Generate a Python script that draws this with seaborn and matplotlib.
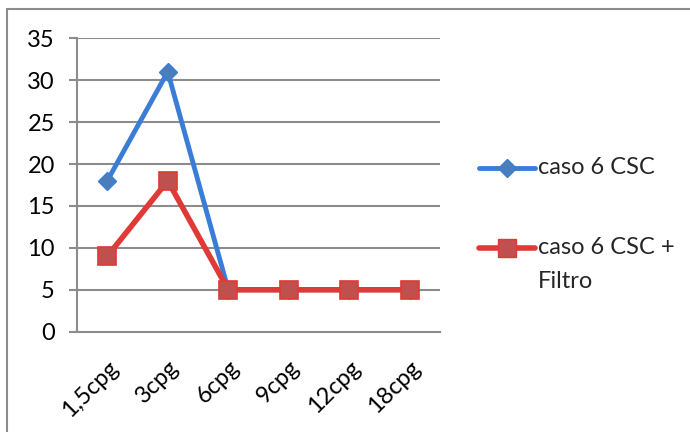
import matplotlib
matplotlib.use("Agg")
import matplotlib.pyplot as plt
import seaborn as sns
import pandas as pd
from matplotlib.lines import Line2D
from matplotlib.patches import Rectangle

# Categories and series values
categories = ["1,5cpg", "3cpg", "6cpg", "9cpg", "12cpg", "18cpg"]
csc_values = [18, 31, 5, 5, 5, 5]
csc_filtro_values = [9, 18, 5, 5, 5, 5]
series_names = ["caso 6 CSC", "caso 6 CSC + Filtro"]
y_ticks = [0, 5, 10, 15, 20, 25, 30, 35]

sns.set_theme(style="white")
plt.rcParams["font.family"] = ["Lato", "DejaVu Sans"]

W, H = 690, 432
fig = plt.figure(figsize=(W / 100, H / 100), dpi=100)

def fx(px):
    return px / W

def fy(py):
    return 1 - py / H

ax = fig.add_axes([fx(77), fy(331.7), fx(440) - fx(77), fy(38.3) - fy(331.7)])

df = pd.DataFrame({
    "cat": categories * 2,
    "val": csc_values + csc_filtro_values,
    "series": [series_names[0]] * len(categories) + [series_names[1]] * len(categories),
})

blue_line, blue_fill = "#3A7DD6", "#4A7EBB"
red_line, red_fill = "#E03A36", "#C0504D"
FS = 17
LW_BLUE, LW_RED = 3.5, 4.0

sns.lineplot(data=df[df.series == series_names[0]], x="cat", y="val", ax=ax,
             color=blue_line, lw=LW_BLUE, marker="D", markersize=9,
             markerfacecolor=blue_fill, markeredgecolor=blue_line, markeredgewidth=1,
             sort=False, legend=False, zorder=3)
sns.lineplot(data=df[df.series == series_names[1]], x="cat", y="val", ax=ax,
             color=red_line, lw=LW_RED, marker="s", markersize=13.5,
             markerfacecolor=red_fill, markeredgecolor=red_line, markeredgewidth=1.2,
             sort=False, legend=False, zorder=4)

grid_col = "#8C8C8C"
ax.set_xlim(-0.5, len(categories) - 0.5)
ax.set_ylim(0, 35)
ax.set_yticks(y_ticks)
ax.set_yticklabels([str(v) for v in y_ticks])
for v in y_ticks[1:]:
    ax.axhline(v, color=grid_col, lw=1.5, zorder=1)

ax.set_xticks(range(len(categories)))
ax.set_xticklabels(categories, rotation=45, ha="right", rotation_mode="anchor")
ax.set_xticks([i - 0.5 for i in range(len(categories) + 1)], minor=True)
ax.tick_params(axis="x", which="major", length=0, pad=18, labelsize=FS, colors="black")
ax.tick_params(axis="x", which="minor", length=6, width=1.5, color=grid_col, direction="out")
ax.tick_params(axis="y", which="major", length=6, width=1.5, color=grid_col, pad=10,
               labelsize=FS, labelcolor="black", direction="out", left=True)
for lab in ax.get_xticklabels():
    lab.set_color("black")

for side in ["top", "right"]:
    ax.spines[side].set_visible(False)
for side in ["left", "bottom"]:
    ax.spines[side].set_color(grid_col)
    ax.spines[side].set_linewidth(1.5)
ax.set_xlabel("")
ax.set_ylabel("")

# Legend drawn in figure coordinates
def legend_entry(ypx, color, fill, marker, ms, lw):
    fig.add_artist(Line2D([fx(479), fx(535)], [fy(ypx), fy(ypx)], color=color, lw=lw,
                          solid_capstyle="round", transform=fig.transFigure))
    fig.add_artist(Line2D([fx(507)], [fy(ypx)], marker=marker, markersize=ms,
                          markerfacecolor=fill, markeredgecolor=color, markeredgewidth=1,
                          lw=0, transform=fig.transFigure))

legend_entry(168, blue_line, blue_fill, "D", 9, LW_BLUE)
legend_entry(248, red_line, red_fill, "s", 13.5, LW_RED)
fig.text(fx(538), fy(168), "caso 6 CSC", fontsize=FS, va="center", ha="left")
fig.text(fx(538), fy(248), "caso 6 CSC +", fontsize=FS, va="center", ha="left")
fig.text(fx(538), fy(282), "Filtro", fontsize=FS, va="center", ha="left")

# Outer chart frame
fig.add_artist(Rectangle((fx(7), fy(440)), fx(720) - fx(7), fy(9) - fy(440),
                         transform=fig.transFigure, fill=False, edgecolor=grid_col, lw=1.5))

fig.savefig("out.png", dpi=100)
